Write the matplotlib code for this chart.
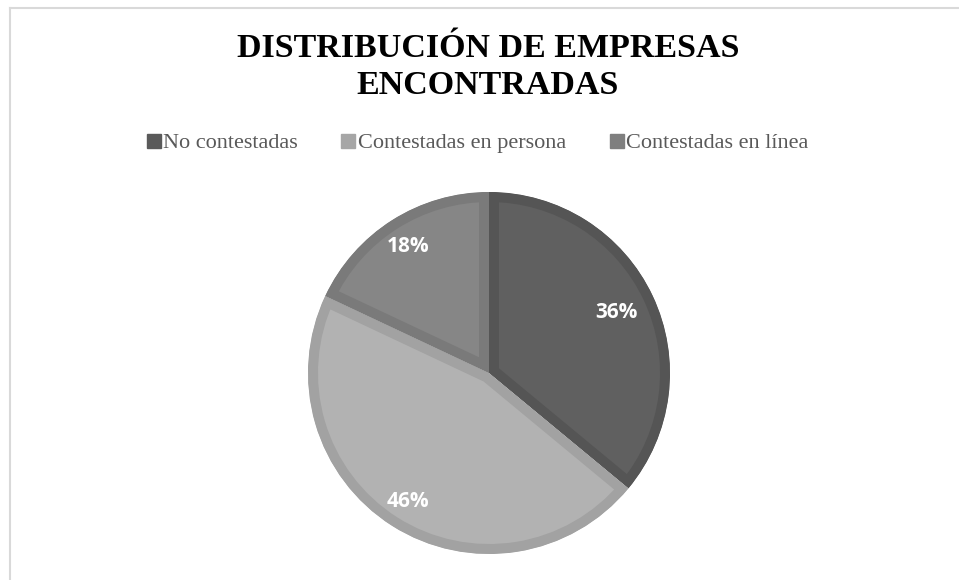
import matplotlib.pyplot as plt
from matplotlib.lines import Line2D
import numpy as np

# datos del grafico
categorias = ['No contestadas', 'Contestadas en persona', 'Contestadas en línea']
porcentajes = [36, 46, 18]
colores = ['#606060', '#b2b2b2', '#868686']
bordes = ['#555555', '#a2a2a2', '#7a7a7a']
colores_leyenda = ['#5a5a5a', '#a6a6a6', '#7f7f7f']
dist_etiquetas = [0.78, 0.84, 0.83]

fig = plt.figure(figsize=(9.59, 5.8), dpi=100)

# marco gris del area del grafico (solo lados izquierdo y superior visibles)
fig.add_artist(Line2D([9.5 / 959, 9.5 / 959], [0, 1 - 7.5 / 580], color='#d9d9d9', lw=1.5))
fig.add_artist(Line2D([9.5 / 959, 1], [1 - 7.5 / 580, 1 - 7.5 / 580], color='#d9d9d9', lw=1.5))

# ejes del pastel
cx, cy, r = 489, 373, 181
ax = fig.add_axes([(cx - r) / 959, (580 - cy - r) / 580, 2 * r / 959, 2 * r / 580])
wedges, _ = ax.pie(porcentajes, colors=colores, startangle=90, counterclock=False,
                   radius=1, wedgeprops=dict(linewidth=14.4))
# borde interior: se recorta el trazo con la propia cuña
for w, b in zip(wedges, bordes):
    w.set_edgecolor(b)
    w.set_clip_on(True)
    w.set_clip_path(w)

# etiquetas de porcentaje
for w, p, d in zip(wedges, porcentajes, dist_etiquetas):
    ang = np.deg2rad((w.theta1 + w.theta2) / 2)
    ax.text(d * np.cos(ang), d * np.sin(ang), str(p) + '%', ha='center', va='center',
            color='white', fontsize=15, fontweight='bold', family='Open Sans')
ax.set_xlim(-1, 1)
ax.set_ylim(-1, 1)
ax.set_aspect('equal')
ax.axis('off')

# titulo
fig.text(488 / 959, 1 - 67 / 580, 'DISTRIBUCIÓN DE EMPRESAS\nENCONTRADAS', ha='center', va='center',
         fontsize=24.5, fontweight='bold', family='Liberation Serif', linespacing=1.25)

# leyenda
manejadores = [Line2D([], [], marker='s', linestyle='', markersize=9.4, color=c) for c in colores_leyenda]
leg = fig.legend(manejadores, categorias, loc='center', bbox_to_anchor=(478 / 959, 1 - 143 / 580),
                 ncol=3, frameon=False, handlelength=0.55, handletextpad=0.15, columnspacing=2.0,
                 prop={'family': 'Liberation Serif', 'size': 16})
for t in leg.get_texts():
    t.set_color('#595959')

fig.savefig('out.png', dpi=100)
